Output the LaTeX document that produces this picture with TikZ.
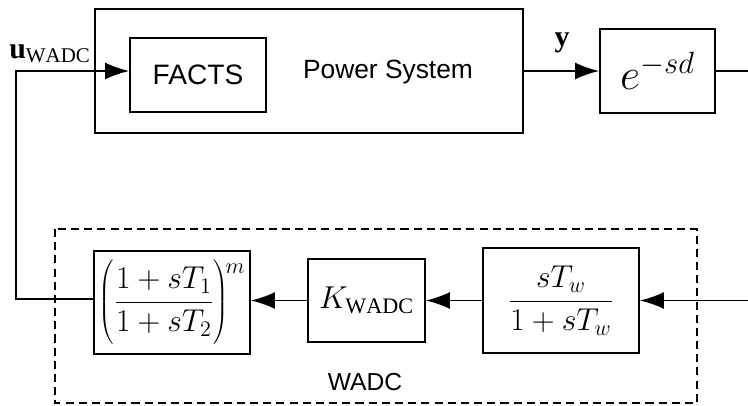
\RequirePackage{fix-cm}
\documentclass[tikz,border=0pt]{standalone}
\usepackage{fontspec}
\setmainfont{Liberation Sans}
\setmathrm{Liberation Serif}
\setboldmathrm{Liberation Serif Bold}
\usetikzlibrary{arrows.meta}

\tikzset{
  blk/.style={draw, line width=1.1pt, minimum width=#1, inner sep=0pt},
  sig/.style={line width=0.95pt},
  sigarr/.style={line width=0.95pt, -{Latex[length=0.48cm, width=0.34cm]}}
}

\begin{document}
\begin{tikzpicture}[font=\fontsize{14}{16}\selectfont]
    \useasboundingbox (0,0) rectangle (14.96,-8.12);

    % 1. Khoi he thong dien va FACTS
    \node[blk=8.56cm, minimum height=2.48cm, line width=1.3pt] (plant) at (6.18,-1.42) {};
    \node[blk=2.72cm, minimum height=1.48cm, font=\fontsize{16}{18}\selectfont] (facts) at (3.96,-1.5) {FACTS};
    \node[font=\fontsize{15}{17}\selectfont] (pstext) at (7.76,-1.44) {Power System};

    % 2. Khoi tre truyen tin
    \node[blk=2.3cm, minimum height=1.68cm] (delay) at (13.15,-1.42)
        {\fontsize{25}{28}\selectfont $e^{-sd}$};
    \coordinate (rtop) at (14.96,-1.42);
    \draw[sig] (delay.east) -- (rtop);

    % Tin hieu y
    \draw[sigarr] (plant.east) -- (delay.west);
    \node (ylab) at (11.24,-0.86) {\fontsize{17}{19}\selectfont $\mathbf{y}$};

    % 3. Bo dieu khien WADC (khung net dut)
    \draw[dashed, dash pattern=on 4.6pt off 2.9pt, line width=1.2pt] (1.1,-4.58) rectangle (13.94,-8.06);
    \node (wadclab) at (7.3,-7.65) {WADC};

    \node[blk=3.12cm, minimum height=2.1cm] (washout) at (11.22,-6.01)
        {\fontsize{18}{20}\selectfont $\displaystyle\frac{sT_w}{1+sT_w}$};
    \node[blk=2.34cm, minimum height=1.66cm] (gain) at (7.33,-6.01)
        {\fontsize{18}{20}\selectfont $K_{\mathrm{WADC}}$};
    \node[blk=3.12cm, minimum height=2.06cm] (leadlag) at (3.44,-6.05)
        {\fontsize{18}{20}\selectfont $\displaystyle\left(\rule[-0.7cm]{0pt}{1.45cm}\frac{1+sT_1}{1+sT_2}\right)^{\!\raisebox{-3pt}{$\scriptstyle m$}}$};

    % Cac mui ten trong WADC
    \coordinate (rbot) at (14.96,-6.01);
    \draw[sigarr] (rbot) -- (washout.east);
    \draw[sigarr] (washout.west) -- (gain.east);
    \draw[sigarr] (gain.west) -- (leadlag.east |- gain.west);

    % 4. Duong hoi tiep u_WADC ve FACTS
    \coordinate (lcorner) at (0.32,-5.98);
    \draw[sigarr] (leadlag.west |- lcorner) -- (lcorner) -- (0.32,-1.42) -- ([yshift=0.08cm]facts.west);
    \node (ulab) at (1.0,-1.08) {\fontsize{17}{19}\selectfont $\mathbf{u}_{\mathrm{WADC}}$};

\end{tikzpicture}
\end{document}
